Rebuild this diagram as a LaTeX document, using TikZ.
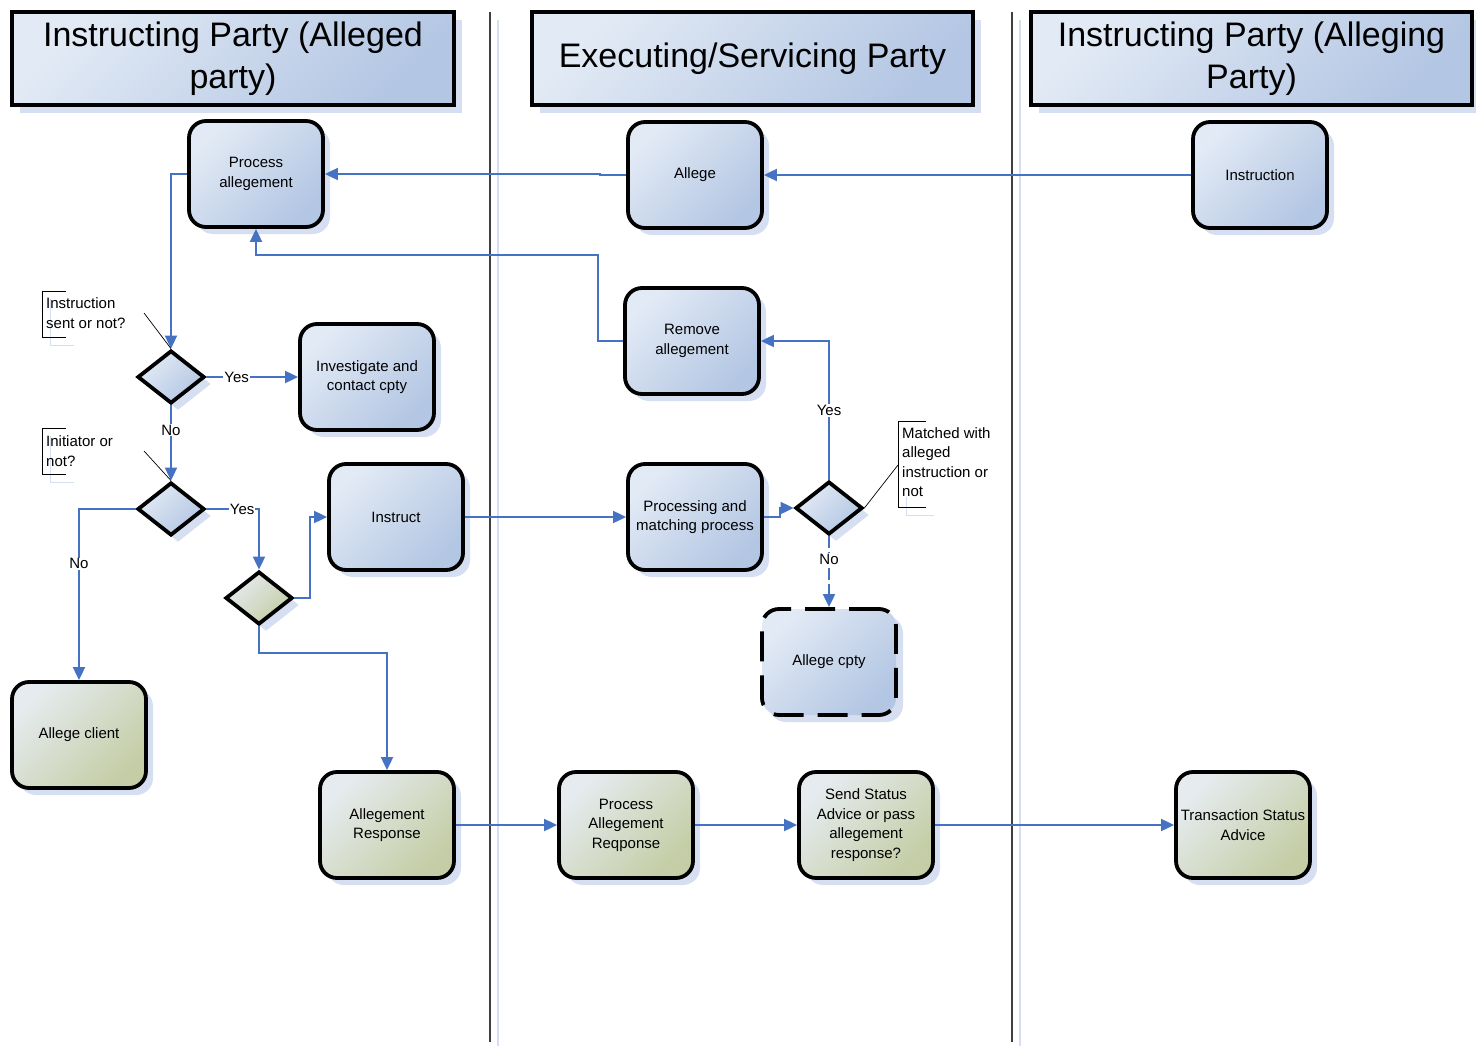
\documentclass[tikz,border=0pt]{standalone}
\usepackage{fontspec}
\setmainfont{Liberation Sans}
\usetikzlibrary{arrows.meta,shapes.geometric,shadows}

\definecolor{flow}{HTML}{4672C4}
\definecolor{blueA}{HTML}{E2EAF5}
\definecolor{blueB}{HTML}{B3C6E3}
\definecolor{greenA}{HTML}{E6EBEF}
\definecolor{greenB}{HTML}{C4CDA5}
\definecolor{shadowblue}{HTML}{D5DFF1}
\definecolor{lanegray}{HTML}{3F3F3F}

\begin{document}
\begin{tikzpicture}[x=1pt,y=-1pt,
  every node/.style={font=\fontsize{15}{19.5}\selectfont, text=black},
  boxshadow/.style={general shadow={fill=shadowblue, shadow xshift=7pt, shadow yshift=-7pt}},
  bluefill/.style={top color=blueA, bottom color=blueB, shading angle=45},
  greenfill/.style={top color=greenA, bottom color=greenB, shading angle=45},
  proc/.style={rounded corners=17pt, draw=black, line width=3.8pt,
    minimum width=134pt, minimum height=106pt, inner sep=0pt, align=center,
    boxshadow},
  bproc/.style={proc, bluefill},
  gproc/.style={proc, greenfill},
  decision/.style={diamond, draw=black, line width=3.8pt, minimum width=67pt,
    minimum height=53pt, inner sep=0pt, boxshadow},
  header/.style={draw=black, line width=3.8pt, minimum height=93pt, inner sep=0pt,
    align=center, bluefill, font=\fontsize{34}{42}\selectfont,
    general shadow={fill=shadowblue, shadow xshift=8pt, shadow yshift=-8pt}},
  flowline/.style={draw=flow, line width=1.9pt, -{Triangle[length=13pt,width=12pt]}},
  lbl/.style={fill=white, inner sep=1pt},
  note/.style={align=left, inner sep=0pt, anchor=west},
  bracket/.style={draw=black, line width=0.7pt},
  bracketshade/.style={draw=shadowblue, line width=0.8pt},
  pointer/.style={draw=black, line width=0.7pt},
  laneline/.style={draw=lanegray, line width=1.8pt},
  laneshadow/.style={draw=shadowblue, line width=1.6pt}]

\useasboundingbox (0,0) rectangle (1476,1046);

% swimlane separators
\draw[laneshadow] (498,20) -- (498,1046);
\draw[laneshadow] (1020,20) -- (1020,1046);
\draw[laneline] (490,12) -- (490,1042);
\draw[laneline] (1012,12) -- (1012,1042);

% lane headers
\node[header, minimum width=442pt] (h1) at (233,58.5) {Instructing Party (Alleged\\party)};
\node[header, minimum width=441pt] (h2) at (752.5,58.5) {Executing/Servicing Party};
\node[header, minimum width=441pt] (h3) at (1251.5,58.5) {Instructing Party (Alleging\\Party)};

% process boxes
\node[bproc] (procalleg) at (256,174) {Process\\allegement};
\node[bproc] (allege) at (695,175) {Allege};
\node[bproc] (instr) at (1260,175) {Instruction};
\node[bproc] (remove) at (692,341) {Remove\\allegement};
\node[bproc] (invest) at (367,377) {Investigate and\\contact cpty};
\node[bproc] (instruct) at (396,517) {Instruct};
\node[bproc] (procmatch) at (695,517) {Processing and\\matching process};
\node[bproc, dash pattern=on 30pt off 14pt] (allegecpty) at (829,662) {Allege cpty};
\node[gproc] (allegeclient) at (79,735) {Allege client};
\node[gproc] (allresp) at (387,825) {Allegement\\Response};
\node[gproc] (parq) at (626,825) {Process\\Allegement\\Reqponse};
\node[gproc] (sendstat) at (866,825) {Send Status\\Advice or pass\\allegement\\response?};
\node[gproc] (tsa) at (1243,825) {Transaction Status\\Advice};

% decisions
\node[decision, bluefill] (d1) at (171,377) {};
\node[decision, bluefill] (d2) at (171,509) {};
\node[decision, greenfill] (d3) at (259,598) {};
\node[decision, bluefill] (d4) at (829,508) {};

% connectors
\draw[flowline] (instr.west) -- (allege.east);
\draw[flowline] (allege.west) -- ++(-26,0) |- (procalleg.east);
\draw[flowline] (procalleg.west) -| (d1.north);
\draw[flowline] (d1.east) -- node[lbl, pos=0.33] {Yes} (invest.west);
\draw[flowline] (d1.south) -- node[lbl, pos=0.33] {No} (d2.north);
\draw[flowline] (d2.west) -| node[lbl, pos=0.66] {No} (allegeclient.north);
\draw[flowline] (d2.east) -| node[lbl, pos=0.34] {Yes} (d3.north);
\draw[flowline] (d3.east) -- ++(16,0) |- (instruct.west);
\draw[flowline] (d3.south) -- ++(0,27) -| (allresp.north);
\draw[flowline] (instruct.east) -- (procmatch.west);
\draw[flowline] (procmatch.east) -- ++(16,0) |- (d4.west);
\draw[flowline] (d4.north) |- node[lbl, pos=0.25] {Yes} (remove.east);
\draw[flowline] (remove.west) -- ++(-25,0) -- ++(0,-86) -| (procalleg.south);
\draw[flowline, dash pattern=on 12pt off 4pt] (d4.south) -- node[lbl, pos=0.32] {No} (allegecpty.north);
\draw[flowline] (allresp.east) -- (parq.west);
\draw[flowline] (parq.east) -- (sendstat.west);
\draw[flowline] (sendstat.east) -- (tsa.west);

% annotations
\draw[bracketshade] (74,345) -- (50,345) -- (50,299);
\draw[bracket] (66,291) -- (42,291) -- (42,337) -- (66,337);
\node[note] (n1) at (46,313) {Instruction\\sent or not?};
\coordinate (n1p) at (144,313);
\draw[pointer] (n1p) -- (d1.north);

\draw[bracketshade] (74,482) -- (50,482) -- (50,436);
\draw[bracket] (66,428) -- (42,428) -- (42,474) -- (66,474);
\node[note] (n2) at (46,451) {Initiator or\\not?};
\coordinate (n2p) at (144,451);
\draw[pointer] (n2p) -- (d2.north);

\draw[bracketshade] (934,515) -- (906,515) -- (906,429);
\draw[bracket] (926,421) -- (898,421) -- (898,507) -- (926,507);
\node[note, fill=white] (n3) at (902,462) {Matched with\\alleged\\instruction or\\not};
\coordinate (n3p) at (898,465);
\draw[pointer] (n3p) -- (d4.east);

\end{tikzpicture}
\end{document}
